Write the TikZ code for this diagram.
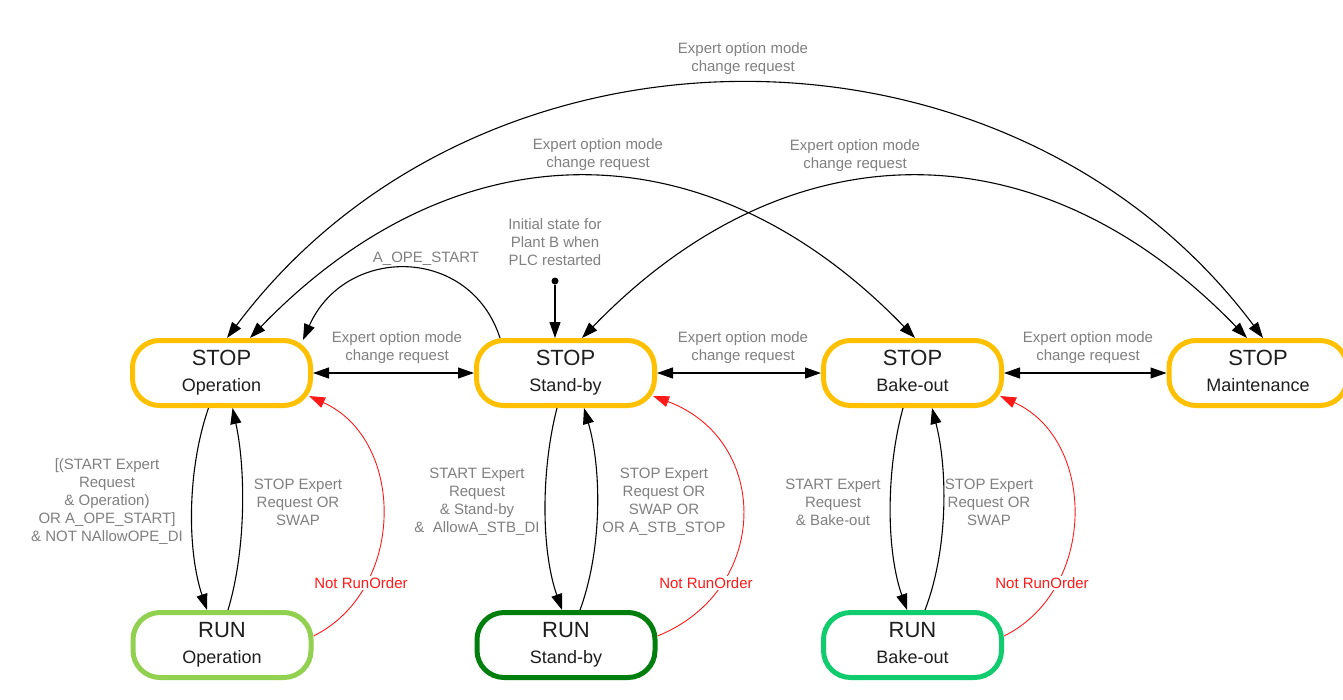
\documentclass[tikz,border=0pt]{standalone}
\usepackage{fontspec}
\setmainfont{Liberation Sans}
\usetikzlibrary{arrows.meta,calc}
\definecolor{stopc}{HTML}{FFC000}
\definecolor{runop}{HTML}{92D050}
\definecolor{runsb}{HTML}{007F0E}
\definecolor{runbo}{HTML}{10CC6E}
\definecolor{lblc}{HTML}{808080}
\definecolor{txt}{HTML}{1E1E1E}
\definecolor{redc}{HTML}{FF1A1A}
\begin{document}
\begin{tikzpicture}[x=1pt,y=-1pt,
  box/.style={draw, line width=5pt, rounded corners=27pt, minimum width=178pt, minimum height=65pt, inner sep=0pt, fill=white},
  stopbox/.style={box, draw=stopc},
  title/.style={anchor=base, text=txt, font=\fontsize{22}{22}\selectfont, inner sep=0pt},
  sub/.style={anchor=base, text=txt, font=\fontsize{18}{18}\selectfont, inner sep=0pt},
  lbl/.style={text=lblc, font=\fontsize{15}{18}\selectfont, align=center, inner sep=1pt},
  redlbl/.style={text=redc, font=\fontsize{15}{18}\selectfont, fill=white, inner sep=1.5pt},
  tr/.style={line width=1.1pt, -{Triangle[length=16pt,width=11pt]}},
  dtr/.style={line width=1.1pt, {Triangle[length=16pt,width=11pt]}-{Triangle[length=16pt,width=11pt]}},
  notrun/.style={draw=redc, line width=0.9pt, -{Triangle[length=16pt,width=11pt]}}
]
\fill[white] (0,0) rectangle (1343,699);
\path[use as bounding box] (0,0) rectangle (1343,699);
\clip (0,0) rectangle (1343,699);

% STOP nodes
\node[stopbox] (so) at (221.5,373) {};
\node[title] (sot) at ($(so.center)+(0,-8)$) {STOP};
\node[sub] (sos) at ($(so.center)+(0,18)$) {Operation};
\node[stopbox] (ss) at (565.5,373) {};
\node[title] (sst) at ($(ss.center)+(0,-8)$) {STOP};
\node[sub] (sss) at ($(ss.center)+(0,18)$) {Stand-by};
\node[stopbox] (sb) at (912.5,373) {};
\node[title] (sbt) at ($(sb.center)+(0,-8)$) {STOP};
\node[sub] (sbs) at ($(sb.center)+(0,18)$) {Bake-out};
\node[stopbox] (sm) at (1258,373) {};
\node[title] (smt) at ($(sm.center)+(0,-8)$) {STOP};
\node[sub] (sms) at ($(sm.center)+(0,18)$) {Maintenance};

% RUN nodes
\node[box, draw=runop] (ro) at (222,645) {};
\node[title] (rot) at ($(ro.center)+(0,-7.5)$) {RUN};
\node[sub] (ros) at ($(ro.center)+(0,18.5)$) {Operation};
\node[box, draw=runsb] (rs) at (566,645) {};
\node[title] (rst) at ($(rs.center)+(0,-7.5)$) {RUN};
\node[sub] (rss) at ($(rs.center)+(0,18.5)$) {Stand-by};
\node[box, draw=runbo] (rb) at (912.5,645) {};
\node[title] (rbt) at ($(rb.center)+(0,-7.5)$) {RUN};
\node[sub] (rbs) at ($(rb.center)+(0,18.5)$) {Bake-out};

% top arcs
\draw[dtr] ($(so.north)+(5.5,0)$) .. controls (480,0) and (1010,0) .. ($(sm.north)+(5,0)$);
\draw[dtr] ($(so.north)+(28.5,0)$) .. controls (457,124) and (708,124) .. ($(sb.north)+(2.5,0)$);
\draw[dtr] ($(ss.north)+(16.5,0)$) .. controls (789,124) and (1040,124) .. ($(sm.north)+(-11,0)$);
\node[lbl] (la) at (743,59) {Expert option mode\\change request};
\node[lbl] (lb) at (598,155) {Expert option mode\\change request};
\node[lbl] (lc) at (855,156) {Expert option mode\\change request};

% A_OPE_START
\draw[tr] ($(ss.north)+(-65.5,0)$) .. controls (470,245) and (345,245) .. ($(so.north)+(81.5,2)$);
\node[lbl] (lope) at (426,259) {A\_OPE\_START};

% initial state
\node[circle, fill=black, inner sep=0pt, minimum size=7pt] (init) at (555,281) {};
\draw[tr] (init) -- ($(ss.north)+(-10.5,0)$);
\node[lbl] (linit) at (555,242) {Initial state for\\Plant B when\\PLC restarted};

% horizontal
\draw[dtr] (so.east) -- (ss.west);
\draw[dtr] (ss.east) -- (sb.west);
\draw[dtr] (sb.east) -- (sm.west);
\node[lbl] (lh1) at (397,348) {Expert option mode\\change request};
\node[lbl] (lh2) at (743,348) {Expert option mode\\change request};
\node[lbl] (lh3) at (1088,348) {Expert option mode\\change request};

% Operation verticals
\draw[tr] ($(so.south)+(-13,0)$) .. controls (187,470) and (187,550) .. ($(ro.north)+(-15,0)$);
\draw[tr] ($(ro.north)+(6,0)$) .. controls (246,550) and (246,470) .. ($(so.south)+(11,0)$);
\node[lbl] (lod) at (107,502) {[(START Expert\\Request\\\& Operation)\\OR A\_OPE\_START]\\\& NOT NAllowOPE\_DI};
\node[lbl] (lou) at (298,502) {STOP Expert\\Request OR\\SWAP};

% Stand-by verticals
\draw[tr] ($(ss.south)+(-8.5,0)$) .. controls (541,470) and (541,550) .. ($(rs.north)+(-4,0)$);
\draw[tr] ($(rs.north)+(14,0)$) .. controls (602,550) and (602,470) .. ($(ss.south)+(18.5,0)$);
\node[lbl] (lsd) at (477,502) {START Expert\\Request\\\& Stand-by\\\&\ \ AllowA\_STB\_DI};
\node[lbl] (lsu) at (664,502) {STOP Expert\\Request OR\\SWAP OR\\OR A\_STB\_STOP};

% Bake-out verticals
\draw[tr] ($(sb.south)+(-9.5,0)$) .. controls (886,470) and (886,550) .. ($(rb.north)+(-5.5,0)$);
\draw[tr] ($(rb.north)+(12.5,0)$) .. controls (948,550) and (948,470) .. ($(sb.south)+(19.5,0)$);
\node[lbl] (lbd) at (833,502) {START Expert\\Request\\\& Bake-out};
\node[lbl] (lbu) at (989,502) {STOP Expert\\Request OR\\SWAP};

% Not RunOrder
\draw[notrun] ($(ro.east)+(0,-9)$) .. controls (406,590) and (406,440) .. ($(so.east)+(-4,23)$);
\draw[notrun] ($(rs.east)+(0,-9)$) .. controls (771,590) and (771,440) .. ($(ss.east)+(-4,23)$);
\draw[notrun] ($(rb.east)+(0,-9)$) .. controls (1097,590) and (1097,440) .. ($(sb.east)+(-4,23)$);
\node[redlbl] (lr1) at (361,583) {Not RunOrder};
\node[redlbl] (lr2) at (706,583) {Not RunOrder};
\node[redlbl] (lr3) at (1042,583) {Not RunOrder};
\end{tikzpicture}
\end{document}
